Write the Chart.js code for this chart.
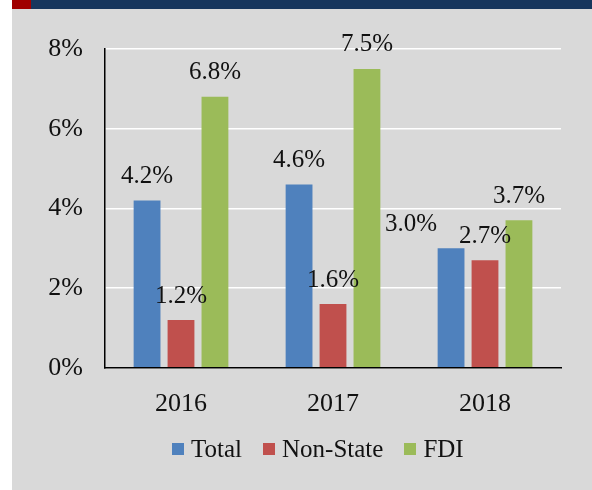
<!DOCTYPE html>
<html>
<head>
<meta charset="utf-8">
<script src="https://cdn.jsdelivr.net/npm/chart.js@4/dist/chart.umd.min.js"></script>
<style>
  html, body { margin: 0; padding: 0; background: #fff; }
  #frame { position: relative; width: 592px; height: 490px; background: #fff; }
  #bg { position: absolute; left: 12px; top: 0; width: 580px; height: 490px; background: #d9d9d9; }
  #red { position: absolute; left: 12px; top: 0; width: 19px; height: 9px; background: #a00000; }
  #navy { position: absolute; left: 31px; top: 0; width: 561px; height: 9px; background: #17365d; }
  #wrap { position: absolute; left: 12px; top: 9px; width: 580px; height: 481px; }
  #legend {
    position: absolute; left: 172px; top: 435px; height: 28px;
    display: flex; align-items: center;
    font-family: "Liberation Serif", "DejaVu Serif", serif; font-size: 25px; color: #111;
  }
  #legend .item { display: flex; align-items: center; margin-right: 21px; }
  #legend .box { width: 12px; height: 12px; margin-right: 7px; }
</style>
</head>
<body>
<div id="frame">
  <div id="bg"></div>
  <div id="red"></div>
  <div id="navy"></div>
  <div id="wrap"><canvas id="growthChart"></canvas></div>
  <div id="legend"></div>
</div>
<script>
const years = ['2016', '2017', '2018'];
const totalValues = [4.2, 4.6, 3.0];
const nonStateValues = [1.2, 1.6, 2.7];
const fdiValues = [6.8, 7.5, 3.7];
const yTicks = [0, 2, 4, 6, 8];

const serif = '"Liberation Serif", "DejaVu Serif", serif';

// value labels above each bar (Excel nudged the 2018 Total one to the left)
const barLabels = {
  id: 'barLabels',
  afterDatasetsDraw(chart) {
    const ctx = chart.ctx;
    ctx.save();
    ctx.font = '25px ' + serif;
    ctx.fillStyle = '#111';
    ctx.textAlign = 'center';
    ctx.textBaseline = 'middle';
    chart.data.datasets.forEach((ds, i) => {
      const meta = chart.getDatasetMeta(i);
      meta.data.forEach((bar, j) => {
        const shift = (ds.labelShift && ds.labelShift[j]) || 0;
        ctx.fillText(ds.data[j].toFixed(1) + '%', bar.x + shift, bar.y - 24);
      });
    });
    ctx.restore();
  }
};

const chart = new Chart(document.getElementById('growthChart'), {
  type: 'bar',
  data: {
    labels: years,
    datasets: [
      { label: 'Total', data: totalValues, backgroundColor: '#4f81bd', labelShift: [0, 0, -40] },
      { label: 'Non-State', data: nonStateValues, backgroundColor: '#c0504d' },
      { label: 'FDI', data: fdiValues, backgroundColor: '#9bbb59' }
    ]
  },
  options: {
    responsive: true,
    maintainAspectRatio: false,
    animation: false,
    categoryPercentage: 0.67,
    barPercentage: 0.79,
    layout: { padding: { top: 40, right: 31, bottom: 57, left: 0 } },
    plugins: {
      legend: { display: false },
      tooltip: { enabled: false }
    },
    scales: {
      x: {
        grid: { display: false },
        border: { color: '#000', width: 1.5 },
        ticks: { color: '#111', padding: 13, font: { family: serif, size: 26 } }
      },
      y: {
        min: 0,
        max: 8,
        afterBuildTicks(scale) { scale.ticks = yTicks.map(v => ({ value: v })); },
        afterFit(scale) { scale.width = 93; },
        grid: { color: '#ffffff', lineWidth: 1.5, drawTicks: false },
        border: { color: '#000', width: 1.5 },
        ticks: {
          color: '#111',
          padding: 22,
          font: { family: serif, size: 26 },
          callback: v => v + '%'
        }
      }
    }
  },
  plugins: [barLabels]
});

// legend built from the chart's own datasets
const legendEl = document.getElementById('legend');
chart.data.datasets.forEach(ds => {
  const item = document.createElement('div');
  item.className = 'item';
  item.innerHTML = `<span class="box" style="background:${ds.backgroundColor}"></span>${ds.label}`;
  legendEl.appendChild(item);
});
</script>
</body>
</html>
